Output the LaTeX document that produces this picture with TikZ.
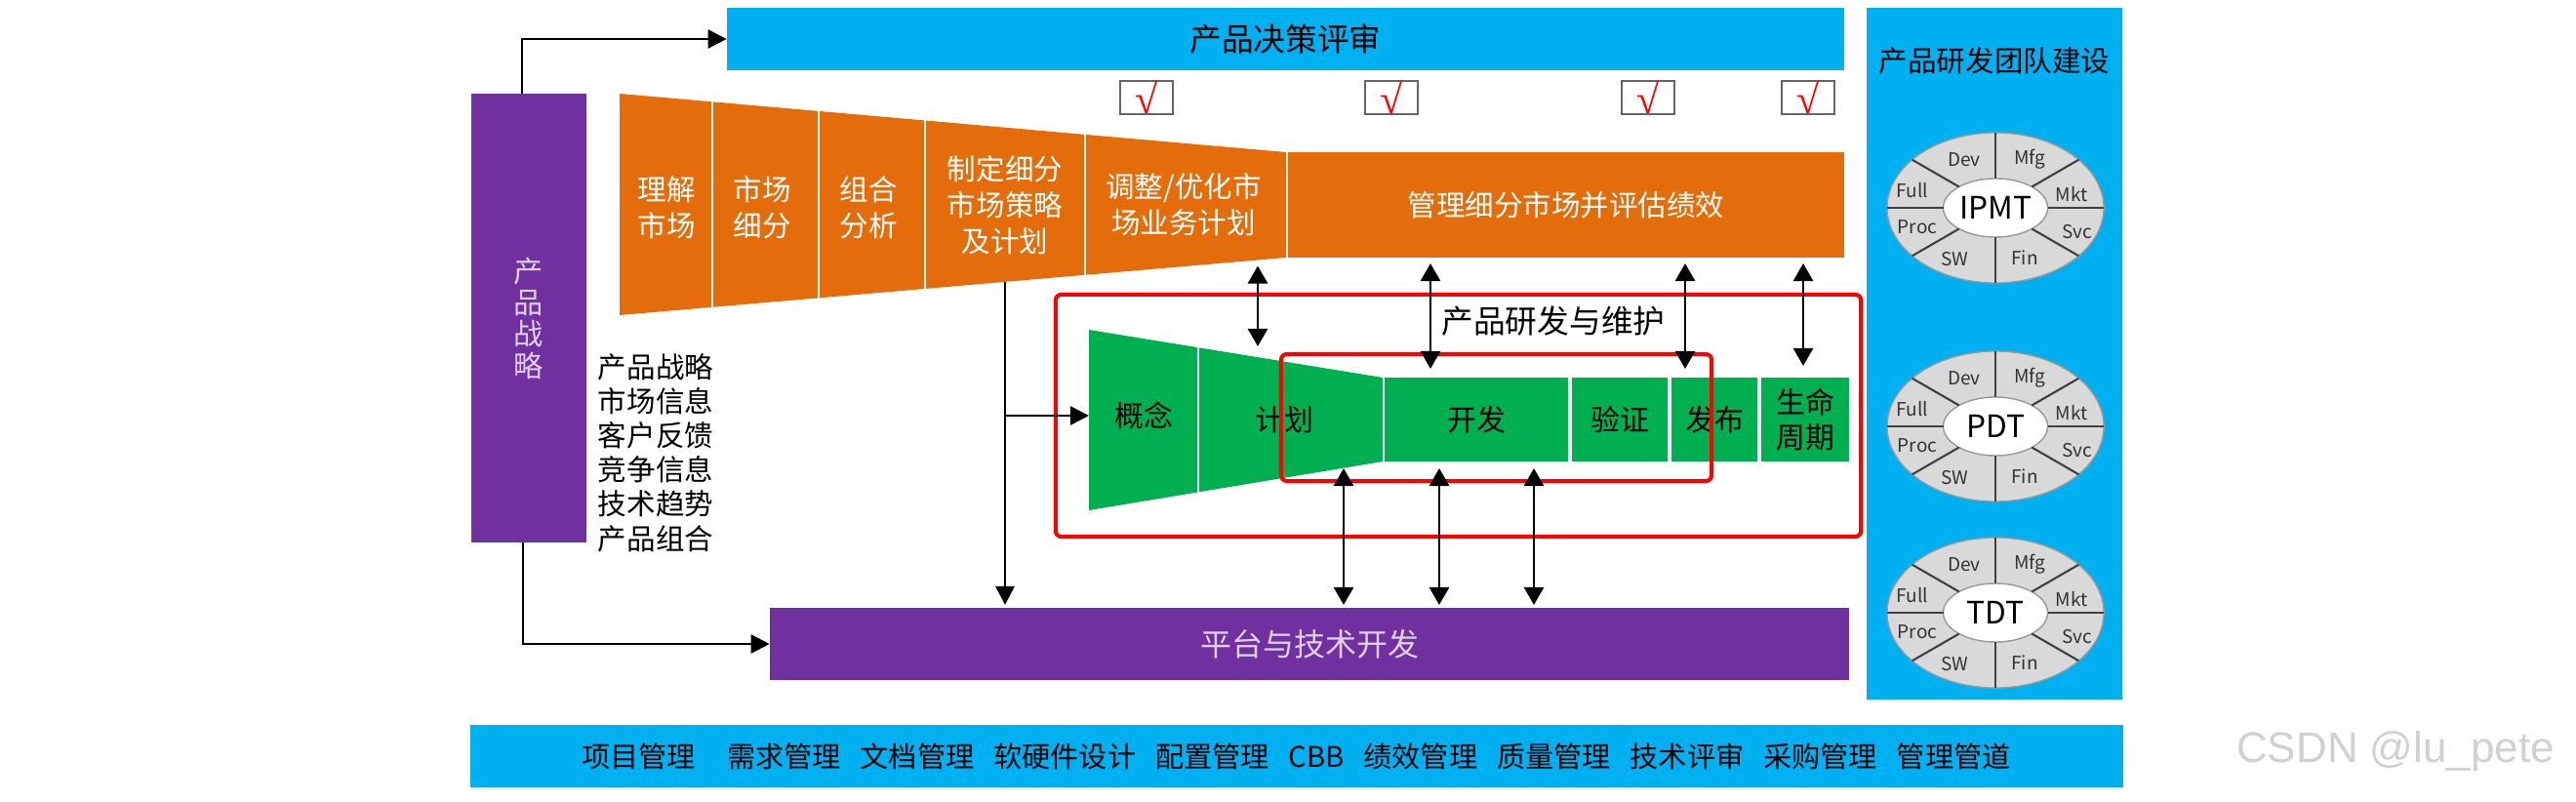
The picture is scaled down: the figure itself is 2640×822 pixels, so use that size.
\documentclass[tikz,border=0pt]{standalone}
\usepackage{fontspec}
\setmainfont{Noto Sans CJK SC}
\newfontfamily\wmfont{Liberation Sans}
\newfontfamily\tickfont{Liberation Serif}
\usepackage{xcolor}
\usepackage{tikz}
\usetikzlibrary{arrows.meta, positioning, shapes.geometric}

\definecolor{bandblue}{RGB}{0,176,240}
\definecolor{stratpurple}{RGB}{112,48,160}
\definecolor{mktorange}{RGB}{228,108,10}
\definecolor{devgreen}{RGB}{0,176,80}
\definecolor{lavender}{RGB}{222,208,238}
\definecolor{ringgray}{RGB}{217,217,217}

\newcommand{\itemgap}{\hspace{0.68em}}

\begin{document}
\begin{tikzpicture}[
    x=0.01cm, y=-0.01cm,
    band/.style={
        rectangle,
        fill=bandblue,
        inner sep=0pt,
        outer sep=0pt,
        align=center
    },
    pbar/.style={
        rectangle,
        fill=stratpurple,
        text=lavender,
        inner sep=0pt,
        outer sep=0pt,
        align=center
    },
    otext/.style={
        align=center,
        text=white,
        inner sep=0pt,
        outer sep=0pt,
        font=\fontsize{8.4}{10.6}\selectfont
    },
    gtext/.style={
        align=center,
        inner sep=0pt,
        outer sep=0pt,
        font=\fontsize{8.5}{10.3}\selectfont
    },
    gseg/.style={
        gtext,
        rectangle,
        fill=devgreen,
        minimum height=0.86cm
    },
    redbox/.style={
        rectangle,
        draw=red,
        line width=1.15pt,
        rounded corners=0.06cm,
        inner sep=0pt
    },
    chkbox/.style={
        rectangle,
        draw=black!60,
        line width=0.6pt,
        fill=white,
        minimum width=0.54cm,
        minimum height=0.34cm,
        inner sep=0pt,
        text=red,
        font=\tickfont\bfseries\fontsize{12}{12}\selectfont
    },
    ring/.style={
        ellipse,
        fill=ringgray,
        draw=gray!80,
        minimum width=2.22cm,
        minimum height=1.54cm,
        inner sep=0pt,
        outer sep=0pt
    },
    core/.style={
        ellipse,
        fill=white,
        draw=gray!80,
        minimum width=1.07cm,
        minimum height=0.60cm,
        inner sep=0pt,
        outer sep=0pt,
        font=\fontsize{9}{9}\selectfont
    },
    ringline/.style={draw=black!75, line width=0.6pt},
    seclabel/.style={inner sep=0pt, text=black!80, font=\fontsize{5.4}{5.4}\selectfont},
    arr/.style={-{Triangle[length=0.19cm, width=0.19cm]}, line width=0.75pt},
    dbl/.style={{Triangle[length=0.18cm, width=0.2cm]}-{Triangle[length=0.18cm, width=0.2cm]}, line width=0.8pt}
]

\fill[white] (0,0) rectangle (2640,822);
\useasboundingbox (0,0) rectangle (2640,822);

% bands
\node[band, minimum width=11.45cm, minimum height=0.64cm, font=\fontsize{9.3}{11}\selectfont] (decision) at (1317.5,40) {产品决策评审};
\node[band, minimum width=2.62cm, minimum height=7.09cm] (team) at (2044,362.5) {};
\node[font=\fontsize{8.4}{10}\selectfont] (teamtitle) at (2044,62) {产品研发团队建设};
\node[band, minimum width=16.93cm, minimum height=0.64cm, font=\fontsize{8.3}{10}\selectfont] (support) at (1328.5,775) {项目管理\hspace{1.1em}需求管理\itemgap 文档管理\itemgap 软硬件设计\itemgap 配置管理\itemgap CBB\itemgap 绩效管理\itemgap 质量管理\itemgap 技术评审\itemgap 采购管理\itemgap 管理管道};

% strategy
\node[pbar, minimum width=1.18cm, minimum height=4.6cm, font=\fontsize{8.6}{9.2}\selectfont] (strategy) at (542,326) {产\\品\\战\\略};
\node[align=left, inner sep=0pt, font=\fontsize{8.4}{10}\selectfont] (inputs) at (672,464) {产品战略\\市场信息\\客户反馈\\竞争信息\\技术趋势\\产品组合};
\node[pbar, minimum width=11.06cm, minimum height=0.74cm, font=\fontsize{9.1}{11}\selectfont] (platform) at (1342,660) {平台与技术开发};

% market funnel
\fill[mktorange] (635,96) -- (1318,156) -- (1318,264) -- (635,323) -- cycle;
\foreach \xx in {730,839,948,1112}
    \draw[white, line width=0.8pt] (\xx,90) -- (\xx,330);
\node[otext, fill=mktorange, minimum width=5.70cm, minimum height=1.08cm] (manage) at (1605,210) {管理细分市场并评估绩效};
\node[otext] (understand) at (683,213) {理解\\市场};
\node[otext] (segment) at (781,213) {市场\\细分};
\node[otext] (portfolio) at (890,213) {组合\\分析};
\node[otext, minimum height=1.58cm] (formulate) at (1030,210) {制定细分\\市场策略\\及计划};
\node[otext, minimum height=1.25cm] (adjust) at (1213,210) {调整/优化市\\场业务计划};

\foreach \n/\xx in {1/1175,2/1426,3/1689,4/1853}
    \node[chkbox] (chk\n) at (\xx,100) {√};

% development funnel
\fill[devgreen] (1116,338) -- (1417,387) -- (1417,473) -- (1116,523) -- cycle;
\draw[white, line width=0.8pt] (1228,330) -- (1228,530);
\node[gtext, minimum width=1.12cm] (concept) at (1172,426) {概念};
\node[gtext, minimum height=1.0cm] (plan) at (1316,430) {计划};
\node[gseg, minimum width=1.88cm] (develop) at (1513,430) {开发};
\node[gseg, minimum width=0.98cm] (verify) at (1660,430) {验证};
\node[gseg, minimum width=0.88cm] (release) at (1757,430) {发布};
\node[gseg, minimum width=0.90cm] (lifecycle) at (1850,430) {生命\\周期};

\node[redbox, minimum width=8.25cm, minimum height=2.48cm] (rdframe) at (1494.5,426) {};
\node[redbox, minimum width=4.41cm, minimum height=1.30cm] (focus) at (1533.5,428) {};
\node[font=\fontsize{9.3}{11}\selectfont] (rdlabel) at (1592,329) {产品研发与维护};

% team rings
\foreach \t/\yy in {IPMT/213,PDT/437,TDT/628}{
    \node[ring] (\t) at (2045,\yy) {};
    \node[core] (\t-core) at (2045,\yy) {\t};
    \foreach \a in {0,30,90,150,180,210,270,330}
        \draw[ringline] (\t-core.\a) -- (\t.\a);
    \foreach \s/\dx/\dy in {Dev/-33/-49,Mfg/34/-50,Full/-86/-18,Mkt/77/-14,Proc/-81/20,Svc/83/25,SW/-43/53,Fin/29/51}
        \node[seclabel] (\t-\s) at ({2046+(\dx)},{\yy+(\dy)}) {\s};
}

% connectors
\draw[arr] ([xshift=-0.07cm]strategy.north) |- (decision.west);
\draw[arr] ([xshift=-0.06cm]strategy.south) |- (platform.west);
\draw[arr, shorten >=0.03cm] (formulate.south) -- (formulate.south |- platform.north);
\draw[arr] (formulate.south |- concept.west) -- (concept.west);

\foreach \n/\xx in {1/1289,2/1466,3/1727,4/1848,5/1377,6/1475,7/1572}
    \coordinate (col\n) at (\xx,0);

\draw[dbl, shorten >=0.25cm] (adjust.south -| col1) -- (plan.north -| col1);
\draw[dbl, shorten <=0.06cm, shorten >=0.09cm] (manage.south -| col2) -- (develop.north -| col2);
\draw[dbl, shorten <=0.06cm, shorten >=0.09cm] (manage.south -| col3) -- (release.north -| col3);
\draw[dbl, shorten <=0.06cm, shorten >=0.12cm] (manage.south -| col4) -- (lifecycle.north -| col4);
\draw[dbl, shorten >=0.03cm] (plan.south -| col5) -- (platform.north -| col5);
\draw[dbl, shorten <=0.07cm, shorten >=0.03cm] (develop.south -| col6) -- (platform.north -| col6);
\draw[dbl, shorten <=0.07cm, shorten >=0.03cm] (develop.south -| col7) -- (platform.north -| col7);

\node[text=black!18, font=\wmfont\fontsize{12.5}{14}\selectfont] (mark) at (2455,770) {CSDN @lu\_pete};

\end{tikzpicture}
\end{document}
